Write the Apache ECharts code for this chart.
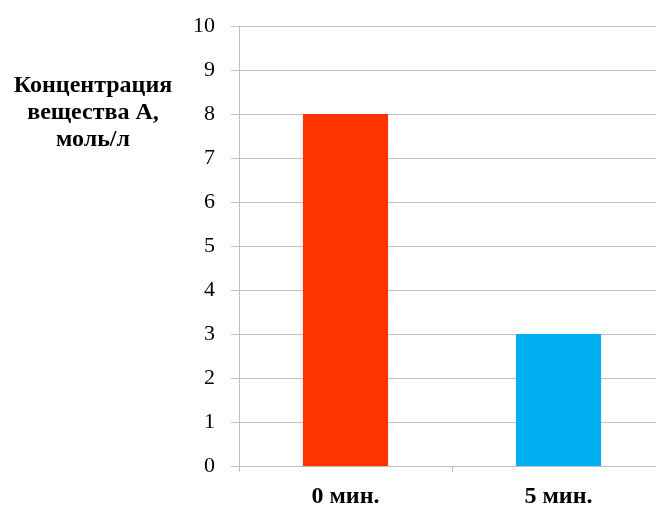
<!DOCTYPE html>
<html><head><meta charset="utf-8">
<script src="https://cdn.jsdelivr.net/npm/echarts@6/dist/echarts.min.js"></script>
<style>html,body{margin:0;padding:0;background:#fff}#c{width:656px;height:506px}</style>
</head><body><div id="c"></div>
<script>
const categories = ['0 мин.', '5 мин.'];
const values = [8, 3];
const barColors = ['#ff3300', '#00b0f0'];
const yTicks = [0, 10, 1];
const yTitle = 'Концентрация\nвещества А,\nмоль/л';

const chart = echarts.init(document.getElementById('c'), null, {renderer: 'canvas'});
chart.setOption({
  animation: false,
  backgroundColor: '#fff',
  grid: {left: 239, top: 26, right: -9, bottom: 40, containLabel: false, outerBoundsMode: 'none'},
  graphic: [{
    type: 'text', x: 93, y: 113,
    style: {text: yTitle, fill: '#000', font: 'bold 24px "Liberation Serif", serif', textAlign: 'center', textVerticalAlign: 'middle', lineHeight: 27}
  }],
  xAxis: {
    type: 'category', data: categories,
    axisLine: {show: true, lineStyle: {color: '#bfbfbf', width: 1}},
    axisTick: {show: true, length: 6, lineStyle: {color: '#bfbfbf'}},
    axisLabel: {margin: 19, color: '#000', fontFamily: '"Liberation Serif", serif', fontWeight: 'bold', fontSize: 24}
  },
  yAxis: {
    type: 'value', min: yTicks[0], max: yTicks[1], interval: yTicks[2],
    axisLine: {show: true, lineStyle: {color: '#bfbfbf', width: 1}},
    axisTick: {show: true, length: 8, inside: false, lineStyle: {color: '#bfbfbf'}},
    splitLine: {show: true, lineStyle: {color: '#bfbfbf', width: 1}},
    axisLabel: {margin: 24, color: '#000', fontFamily: '"Liberation Serif", serif', fontSize: 22}
  },
  series: [{
    type: 'bar', barWidth: '40%',
    data: values.map((v, i) => ({value: v, itemStyle: {color: barColors[i]}}))
  }]
});
</script></body></html>
